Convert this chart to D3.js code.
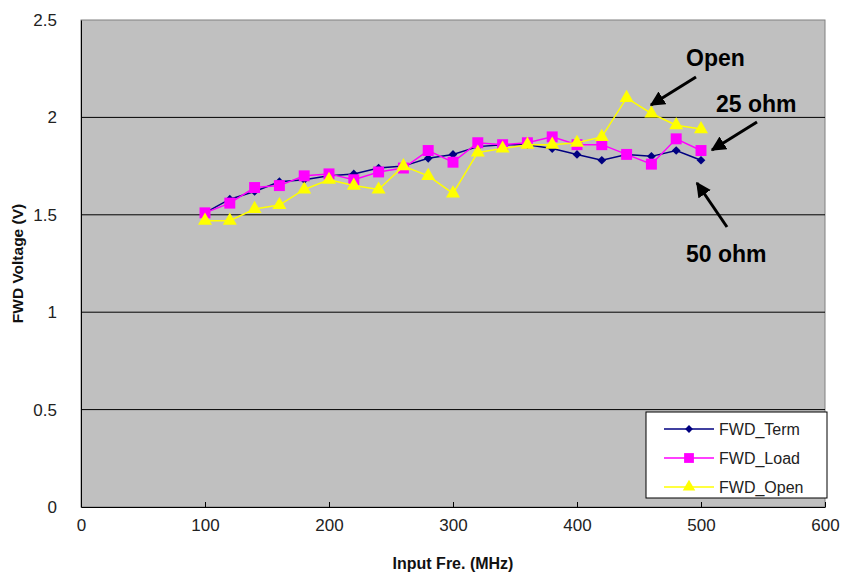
<!DOCTYPE html>
<html>
<head>
<meta charset="utf-8">
<script src="https://cdn.jsdelivr.net/npm/d3@7"></script>
<style>
  html, body { margin: 0; padding: 0; background: #ffffff; }
  svg { display: block; }
</style>
</head>
<body>
<svg id="chart" width="844" height="575"></svg>
<script>
const freqs = [100,120,140,160,180,200,220,240,260,280,300,320,340,360,380,400,420,440,460,480,500];
const fwdTerm = [1.51,1.58,1.62,1.67,1.68,1.70,1.71,1.74,1.75,1.79,1.81,1.85,1.86,1.86,1.84,1.81,1.78,1.81,1.80,1.83,1.78];
const fwdLoad = [1.51,1.56,1.64,1.65,1.70,1.71,1.68,1.72,1.74,1.83,1.77,1.87,1.86,1.87,1.90,1.86,1.86,1.81,1.76,1.89,1.83];
const fwdOpen = [1.47,1.47,1.53,1.55,1.63,1.68,1.65,1.63,1.75,1.70,1.61,1.82,1.84,1.86,1.86,1.87,1.90,2.10,2.02,1.96,1.94];
const seriesNames = ["FWD_Term","FWD_Load","FWD_Open"];
const xTicks = [0,100,200,300,400,500,600];
const yTicks = [0,0.5,1,1.5,2,2.5];
const xTitle = "Input Fre. (MHz)";
const yTitle = "FWD Voltage (V)";
const annotations = [
  {label:"Open", tx:686, ty:66, from:[696,77], to:[651,105]},
  {label:"25 ohm", tx:716, ty:112, from:[757,122], to:[712,150]},
  {label:"50 ohm", tx:686, ty:262, from:[727,227], to:[697,183]}
];

const svg = d3.select("#chart");
const L = 81, R = 825, T = 20, B = 507;
const x = d3.scaleLinear().domain([0,600]).range([L,R]);
const y = d3.scaleLinear().domain([0,2.5]).range([B,T]);

// plot area
svg.append("rect").attr("x",L).attr("y",T).attr("width",R-L).attr("height",B-T)
  .attr("fill","#c0c0c0").attr("stroke","#808080").attr("stroke-width",1);

// gridlines
svg.append("g").selectAll("line").data(yTicks.filter(d=>d>0 && d<2.5)).join("line")
  .attr("x1",L).attr("x2",R).attr("y1",d=>y(d)).attr("y2",d=>y(d))
  .attr("stroke","#000").attr("stroke-width",1);

// x axis
const xAxis = d3.axisBottom(x).tickValues(xTicks).tickSizeInner(-5).tickSizeOuter(0).tickPadding(12)
  .tickFormat(d=>d);
const gx = svg.append("g").attr("transform",`translate(0,${B})`).call(xAxis);
gx.select(".domain").attr("stroke","#000");
gx.selectAll(".tick line").attr("stroke","#000");
gx.selectAll("text").attr("font-family","Liberation Sans, Arial, sans-serif").attr("font-size",17).attr("fill","#222");

// y axis
const yAxis = d3.axisLeft(y).tickValues(yTicks).tickSize(0).tickPadding(24).tickFormat(d=>d);
const gy = svg.append("g").attr("transform",`translate(${L},0)`).call(yAxis);
gy.select(".domain").attr("stroke","#000");
gy.selectAll("text").attr("font-family","Liberation Sans, Arial, sans-serif").attr("font-size",17).attr("fill","#222");

// titles
svg.append("text").attr("x",(L+R)/2).attr("y",569).attr("text-anchor","middle")
  .attr("font-family","Liberation Sans, Arial, sans-serif").attr("font-size",16).attr("font-weight","bold")
  .attr("fill","#111").text(xTitle);
svg.append("text").attr("transform",`translate(23,${(T+B)/2}) rotate(-90)`).attr("text-anchor","middle")
  .attr("font-family","Liberation Sans, Arial, sans-serif").attr("font-size",15.5).attr("font-weight","bold")
  .attr("fill","#111").text(yTitle);

// series
const series = [
  {name:seriesNames[0], values:fwdTerm, color:"#000080", shape:d3.symbolSquare, size:38, rot:45},
  {name:seriesNames[1], values:fwdLoad, color:"#ff00ff", shape:d3.symbolSquare, size:120, rot:0},
  {name:seriesNames[2], values:fwdOpen, color:"#ffff00", shape:d3.symbolTriangle, size:85, rot:0}
];
const line = d3.line().x(d=>x(d[0])).y(d=>y(d[1]));
series.forEach(s=>{
  const pts = freqs.map((f,i)=>[f,s.values[i]]);
  const g = svg.append("g");
  g.append("path").datum(pts).attr("d",line).attr("fill","none").attr("stroke",s.color).attr("stroke-width",1.5);
  g.selectAll("path.m").data(pts).join("path").attr("class","m")
    .attr("d",d3.symbol().type(s.shape).size(s.size))
    .attr("transform",d=>`translate(${x(d[0])},${y(d[1])}) rotate(${s.rot})`)
    .attr("fill",s.color);
});

// legend
const lg = svg.append("g");
lg.append("rect").attr("x",646).attr("y",412).attr("width",181).attr("height",86)
  .attr("fill","#fff").attr("stroke","#000").attr("stroke-width",1);
series.forEach((s,i)=>{
  const yy = 429 + i*29;
  lg.append("line").attr("x1",664).attr("x2",714).attr("y1",yy).attr("y2",yy).attr("stroke",s.color).attr("stroke-width",1.5);
  lg.append("path").attr("d",d3.symbol().type(s.shape).size(s.size*0.8))
    .attr("transform",`translate(689,${yy}) rotate(${s.rot})`).attr("fill",s.color);
  lg.append("text").attr("x",719).attr("y",yy+6).attr("font-family","Liberation Sans, Arial, sans-serif")
    .attr("font-size",16).attr("fill","#222").text(s.name);
});

// annotations
svg.append("defs").append("marker").attr("id","ah").attr("viewBox","0 0 10 10").attr("refX",9).attr("refY",5)
  .attr("markerWidth",5).attr("markerHeight",5).attr("orient","auto")
  .append("path").attr("d","M0,0 L10,5 L0,10 z").attr("fill","#000");
annotations.forEach(a=>{
  svg.append("text").attr("x",a.tx).attr("y",a.ty).attr("font-family","Liberation Sans, Arial, sans-serif")
    .attr("font-size",23).attr("font-weight","bold").attr("fill","#000").text(a.label);
  svg.append("line").attr("x1",a.from[0]).attr("y1",a.from[1]).attr("x2",a.to[0]).attr("y2",a.to[1])
    .attr("stroke","#000").attr("stroke-width",3).attr("marker-end","url(#ah)");
});
</script>
</body>
</html>
